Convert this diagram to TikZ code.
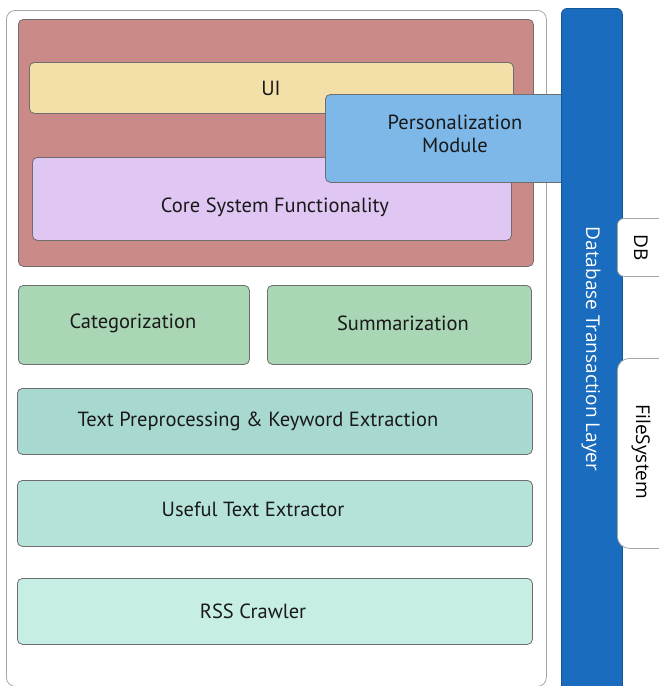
\documentclass[tikz,border=0pt]{standalone}
\usepackage{fontspec}
\setmainfont{PT Sans}
\newfontfamily\sidefont{Open Sans}
\definecolor{edge}{HTML}{6E6E6E}
\definecolor{corebg}{HTML}{C98A88}
\definecolor{uibg}{HTML}{F3DFA8}
\definecolor{funcbg}{HTML}{E0C6F2}
\definecolor{persbg}{HTML}{7DB8E8}
\definecolor{dbbar}{HTML}{1A6CBE}
\definecolor{greenbg}{HTML}{A9D6B4}
\definecolor{tealbg}{HTML}{A8D9D0}
\definecolor{usefulbg}{HTML}{B5E3DA}
\definecolor{rssbg}{HTML}{C6EEE5}
\tikzset{
  layer/.style={draw=edge, line width=0.8pt, rounded corners=5pt, anchor=north west, inner sep=0pt},
  lbl/.style={font=\fontsize{20.5}{23}\selectfont, text=black!90, align=center},
  sidelbl/.style={font=\sidefont\fontsize{19}{22}\selectfont, rotate=-90}
}
\begin{document}
\begin{tikzpicture}[x=1pt, y=-1pt]
\useasboundingbox (0,0) rectangle (659,686);
\clip (0,0) rectangle (659,686);

% outer container of the application stack
\node[layer, draw=gray!70, fill=white, rounded corners=9pt, minimum width=540pt, minimum height=676pt] (app) at (6,10) {};

% presentation block
\node[layer, fill=corebg, minimum width=515pt, minimum height=247pt] (front) at (18,19) {};
\node[layer, fill=uibg, minimum width=484pt, minimum height=51pt] (ui) at (29,62) {};
\node[lbl] (uit) at (271,88) {UI};
\node[layer, fill=funcbg, minimum width=479pt, minimum height=83pt] (core) at (32,157) {};
\node[lbl] (coret) at (275,207) {Core System Functionality};
\node[layer, fill=persbg, minimum width=250pt, minimum height=88pt] (pers) at (325,94) {};
\node[lbl] (perst) at (455,134) {Personalization\\Module};

% processing layers
\node[layer, fill=greenbg, minimum width=231pt, minimum height=79pt] (cat) at (18,285) {};
\node[lbl] (catt) at (133,323) {Categorization};
\node[layer, fill=greenbg, minimum width=264pt, minimum height=79pt] (sum) at (267,285) {};
\node[lbl] (sumt) at (403,323) {Summarization};
\node[layer, fill=tealbg, minimum width=515pt, minimum height=66pt] (prep) at (17,388) {};
\node[lbl] (prept) at (258,421) {Text Preprocessing \& Keyword Extraction};
\node[layer, fill=usefulbg, minimum width=515pt, minimum height=66pt] (useful) at (17,480) {};
\node[lbl] (usefult) at (253,509) {Useful Text Extractor};
\node[layer, fill=rssbg, minimum width=515pt, minimum height=66pt] (rss) at (17,578) {};
\node[lbl] (rsst) at (253,611) {RSS Crawler};

% database transaction layer
\node[layer, draw=dbbar!80!black, fill=dbbar, rounded corners=6pt, minimum width=61pt, minimum height=700pt] (dtl) at (561,8) {};
\node[sidelbl, text=white] (dtlt) at (591,349) {Database Transaction Layer};

% storage tabs attached to the layer
\node[layer, draw=gray!70, fill=white, rounded corners=7pt, minimum width=60pt, minimum height=58pt] (db) at (617,218) {};
\node[sidelbl] (dbt) at (641,248) {DB};
\node[layer, draw=gray!70, fill=white, rounded corners=12pt, minimum width=60pt, minimum height=190pt] (fs) at (617,358) {};
\node[sidelbl] (fst) at (641,452) {FileSystem};
\end{tikzpicture}
\end{document}
